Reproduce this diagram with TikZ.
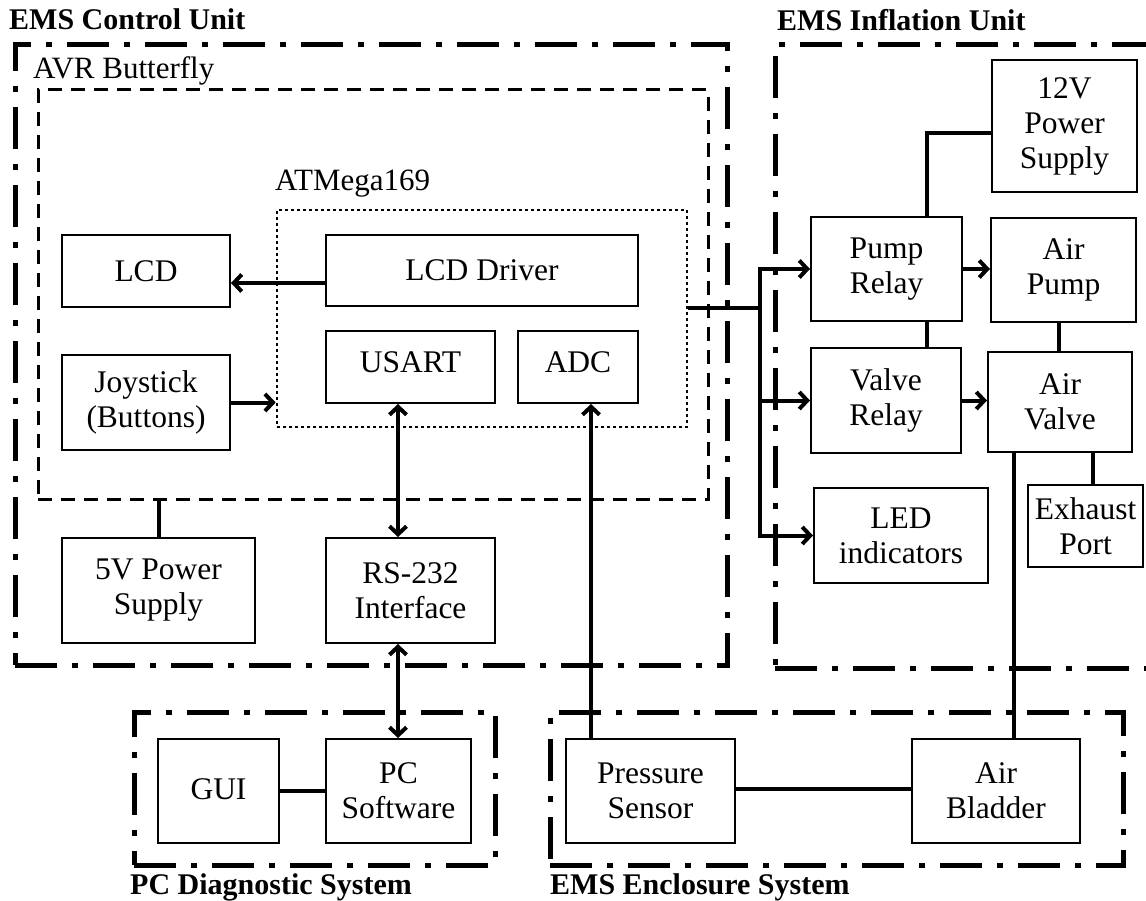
\documentclass[tikz,border=0pt]{standalone}
\usepackage{fontspec}
\setmainfont{Liberation Serif}
\usetikzlibrary{arrows.meta}
\begin{document}
\begin{tikzpicture}[x=1pt,y=-1pt,
  boxtxt/.style={font=\fontsize{31.5}{35}\selectfont},
  blk/.style={draw, line width=2pt, inner sep=0pt, align=center, boxtxt},
  ddframe/.style={draw, line width=5pt, inner sep=0pt, dash pattern=on 42pt off 15pt on 6pt off 15pt},
  dsframe/.style={draw, line width=3pt, inner sep=0pt, dash pattern=on 14pt off 9pt},
  dtframe/.style={draw, line width=2.6pt, inner sep=0pt, dash pattern=on 2.6pt off 3.4pt},
  conn/.style={line width=4pt},
  arr/.style={conn, -{Straight Barb[length=8pt,width=17pt,line width=4pt]}},
  darr/.style={conn, {Straight Barb[length=8pt,width=17pt,line width=4pt]}-{Straight Barb[length=8pt,width=17pt,line width=4pt]}},
  ttl/.style={anchor=base west, inner sep=0pt, font=\fontsize{30}{34}\selectfont\bfseries},
  lbl/.style={anchor=base west, inner sep=0pt, font=\fontsize{31}{35}\selectfont}
]
\useasboundingbox (0,0) rectangle (1146,901);

% frames
\node[ddframe, minimum width=712, minimum height=620] (ctrl) at (371,355) {};
\node[dsframe, minimum width=670, minimum height=409] (avr) at (373,294.5) {};
\node[dtframe, minimum width=410, minimum height=217] (atm) at (482,318.5) {};
\node[ddframe, minimum width=385, minimum height=623] (infl) at (967.5,356.5) {};
\node[ddframe, minimum width=361, minimum height=153] (pcf) at (314.5,788.5) {};
\node[ddframe, minimum width=573, minimum height=153] (encf) at (836.5,788.5) {};

% titles and labels
\node[ttl] (t1) at (9,30) {EMS Control Unit};
\node[ttl] (t2) at (777,31) {EMS Inflation Unit};
\node[ttl] (t3) at (130,894) {PC Diagnostic System};
\node[ttl] (t4) at (550,894) {EMS Enclosure System};
\node[lbl] (l1) at (33,79) {AVR Butterfly};
\node[lbl] (l2) at (275,191) {ATMega169};

% blocks
\node[blk, minimum width=168, minimum height=72] (lcd) at (146,271) {LCD};
\node[blk, minimum width=168, minimum height=95] (joy) at (146,402.5) {Joystick\\(Buttons)};
\node[blk, minimum width=193, minimum height=105] (psu5) at (158.5,590.5) {5V Power\\Supply};
\node[blk, minimum width=312, minimum height=71] (lcdd) at (482,270.5) {LCD Driver};
\node[blk, minimum width=169, minimum height=72] (usart) at (410.5,367) {\raisebox{9pt}{USART}};
\node[blk, minimum width=120, minimum height=72] (adc) at (578,367) {\raisebox{9pt}{ADC}};
\node[blk, minimum width=169, minimum height=105] (rs) at (410.5,590.5) {RS-232\\Interface};
\node[blk, minimum width=121, minimum height=104] (gui) at (218.5,791) {\raisebox{4pt}{GUI}};
\node[blk, minimum width=145, minimum height=104] (pcs) at (398.5,791) {PC\\Software};
\node[blk, minimum width=169, minimum height=104] (pres) at (650.5,791) {Pressure\\Sensor};
\node[blk, minimum width=168, minimum height=104] (blad) at (996,791) {Air\\Bladder};
\node[blk, minimum width=145, minimum height=132] (psu12) at (1064.5,126) {12V\\Power\\Supply};
\node[blk, minimum width=151, minimum height=104] (prel) at (886.5,269) {Pump\\Relay};
\node[blk, minimum width=145, minimum height=104] (apump) at (1063.5,270) {Air\\Pump};
\node[blk, minimum width=150, minimum height=105] (vrel) at (886,400.5) {Valve\\Relay};
\node[blk, minimum width=144, minimum height=100] (avalve) at (1060,402) {Air\\Valve};
\node[blk, minimum width=115, minimum height=82] (exh) at (1085.5,526) {Exhaust\\Port};
\node[blk, minimum width=174, minimum height=95] (led) at (901,535.5) {LED\\indicators};

% helper coordinates
\coordinate (ax) at (398,0);
\coordinate (bx) at (591,0);
\coordinate (cx) at (1014,0);
\coordinate (dx) at (1093,0);
\coordinate (ex) at (927,0);
\coordinate (fx) at (1059,0);
\coordinate (yc) at (0,133);
\coordinate (bf) at (760,308);
\coordinate (bt) at (760,269);

% connectors
\draw[arr] ([yshift=-12.5pt]lcdd.west) -- ([yshift=-12.5pt]lcdd.west -| lcd.east);
\draw[arr] (joy.east) -- (joy.east -| atm.west);
\draw[conn] (psu5.north) -- (psu5.north |- avr.south);
\draw[darr] (usart.south -| ax) -- (rs.north -| ax);
\draw[darr] (rs.south -| ax) -- (pcs.north -| ax);
\draw[arr] (pres.north -| bx) -- (adc.south -| bx);
\draw[conn] ([yshift=2pt]pres.east) -- ([yshift=2pt]pres.east -| blad.west);
\draw[conn] (gui.east) -- (pcs.west);
\draw[conn] (blad.north -| cx) -- (avalve.south -| cx);
\draw[conn] (avalve.south -| dx) -- (exh.north -| dx);
\draw[conn] (apump.south -| fx) -- (avalve.north -| fx);
\draw[conn] (prel.south -| ex) -- (vrel.north -| ex);
\draw[conn] (psu12.west |- yc) -| (prel.north -| ex);
\draw[arr] (prel.east) -- (prel.east -| apump.west);
\draw[arr] (vrel.east) -- (vrel.east -| avalve.west);
\draw[conn] (atm.east |- bf) -- (bf);
\draw[conn, line cap=rect] (bt) -- (bt |- led.west);
\draw[arr] (bt) -- (prel.west);
\draw[arr] (bt |- vrel.west) -- (vrel.west);
\draw[arr] (bt |- led.west) -- (led.west);
\end{tikzpicture}
\end{document}
